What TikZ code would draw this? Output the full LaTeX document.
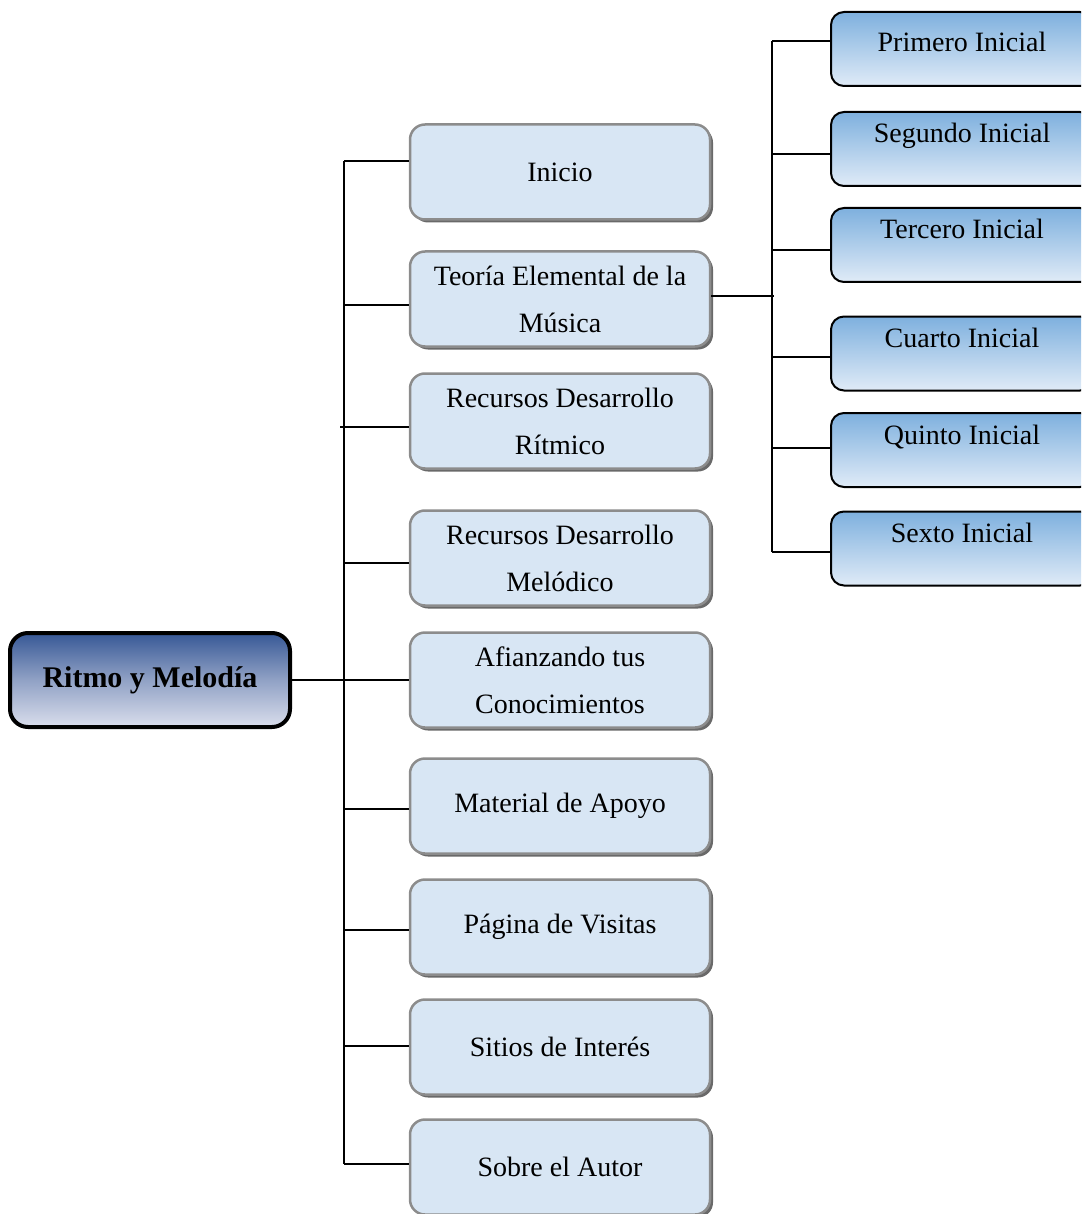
\documentclass[tikz,border=0pt]{standalone}
\usepackage{fontspec}
\setmainfont{Liberation Serif}
\usetikzlibrary{shadows}
\definecolor{rootTop}{RGB}{55,88,150}
\definecolor{rootBot}{RGB}{218,222,236}
\definecolor{subTop}{RGB}{126,176,222}
\definecolor{subBot}{RGB}{224,235,247}
\definecolor{midFill}{RGB}{216,230,244}
\definecolor{midLine}{RGB}{140,140,140}
\begin{document}
\begin{tikzpicture}[x=1pt, y=-1pt,
        conn/.style={line width=2pt, black},
        rootbox/.style={draw=black, line width=4pt, rounded corners=18pt,
            top color=rootTop, bottom color=rootBot, middle color=rootTop!45!rootBot,
            minimum width=280pt, minimum height=94pt,
            font=\fontsize{30}{36}\selectfont\bfseries},
        midbox/.style={draw=midLine, line width=2.5pt, rounded corners=15pt, fill=midFill,
            drop shadow={shadow xshift=3pt, shadow yshift=-3pt, fill=black!65, opacity=.9},
            minimum width=300pt, minimum height=95pt, align=center,
            font=\fontsize{28}{47}\selectfont},
        subbox/.style={draw=black, line width=2pt, rounded corners=13pt,
            top color=subTop, bottom color=subBot,
            minimum width=262pt, minimum height=74pt, inner ysep=0pt,
            text height=31pt, text depth=43pt,
            font=\fontsize{28}{34}\selectfont}]
        \useasboundingbox (0,0) rectangle (1081,1214);
        \clip (0,0) rectangle (1081,1214);
        \node[rootbox] (rm) at (150,680) {Ritmo y Melodía};
        \node[midbox] (ini) at (560,172) {Inicio};
        \node[midbox] (teo) at (560,299) {Teoría Elemental de la\\Música};
        \node[midbox] (rit) at (560,421) {Recursos Desarrollo\\Rítmico};
        \node[midbox] (mel) at (560,558) {Recursos Desarrollo\\Melódico};
        \node[midbox] (afi) at (560,680) {Afianzando tus\\Conocimientos};
        \node[midbox] (mat) at (560,806) {Material de Apoyo};
        \node[midbox] (pag) at (560,927) {Página de Visitas};
        \node[midbox] (sit) at (560,1047) {Sitios de Interés};
        \node[midbox] (sob) at (560,1167) {Sobre el Autor};
        \node[subbox, text height=40pt, text depth=34pt] (pri) at (962,49) {Primero Inicial};
        \node[subbox] (seg) at (962,149) {Segundo Inicial};
        \node[subbox] (ter) at (962,245) {Tercero Inicial};
        \node[subbox] (cua) at (962,353.5) {Cuarto Inicial};
        \node[subbox] (qui) at (962,450) {Quinto Inicial};
        \node[subbox] (sex) at (962,548.5) {Sexto Inicial};
        \draw[conn] (rm.east) -- (afi.west);
        \foreach \n/\d/\l in {ini/11/65, teo/-6/65, rit/-6/69, mel/-5/65, mat/-3/65, pag/-3/65, sit/1/65, sob/3/65}
            \draw[conn] ([yshift=\d pt]\n.west) -- ++(-\l,0);
        \draw[conn] ([xshift=-65pt, yshift=11pt]ini.west) -- ([xshift=-65pt, yshift=3pt]sob.west);
        \draw[conn] ([yshift=3pt]teo.east) -- ++(63,0);
        \foreach \n/\d in {pri/8, seg/-5, ter/-5, cua/-3.5, qui/2, sex/-3.5}
            \draw[conn] ([yshift=\d pt]\n.west) -- ++(-58,0);
        \draw[conn] ([xshift=-58pt, yshift=8pt]pri.west) -- ([xshift=-58pt, yshift=-3.5pt]sex.west);
\end{tikzpicture}
\end{document}
